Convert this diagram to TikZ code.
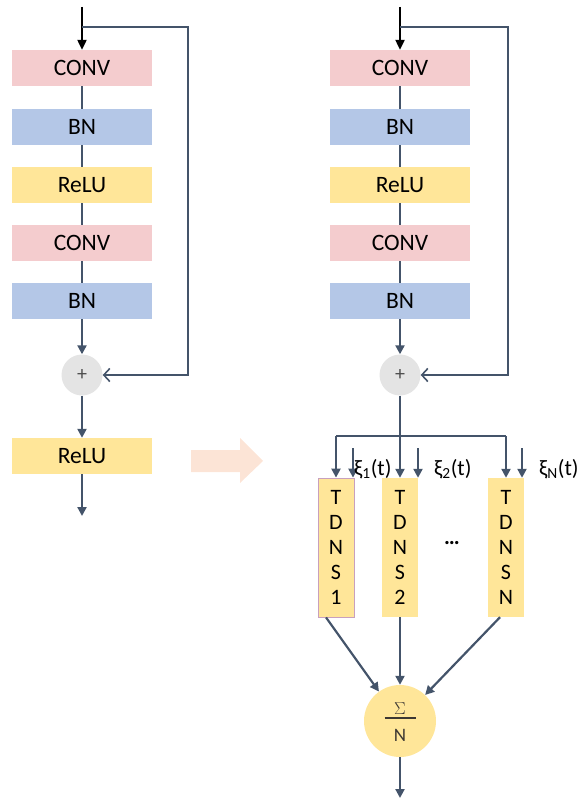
\documentclass[tikz,border=0pt]{standalone}
\usepackage{fontspec}
\setmainfont{Carlito}
\usetikzlibrary{arrows.meta,calc}
\definecolor{convc}{RGB}{244,204,206}
\definecolor{bnc}{RGB}{180,199,231}
\definecolor{reluc}{RGB}{255,230,153}
\definecolor{plusc}{RGB}{228,228,228}
\definecolor{linec}{RGB}{68,84,106}
\definecolor{bigarr}{RGB}{252,228,214}
\definecolor{tborder}{RGB}{200,160,190}
\definecolor{sumtxt}{RGB}{60,55,50}
\begin{document}
\begin{tikzpicture}[x=1pt,y=-1pt,
  box/.style={minimum width=140pt,minimum height=36pt,inner sep=0pt,font=\fontsize{23.5}{26}\selectfont},
  convbox/.style={box,fill=convc},
  bnbox/.style={box,fill=bnc},
  relubox/.style={box,fill=reluc},
  tdns/.style={fill=reluc,minimum width=36pt,minimum height=139pt,inner sep=0pt,align=center,font=\fontsize{22}{25}\selectfont},
  plusnode/.style={circle,fill=plusc,minimum size=41pt,inner sep=0pt,font=\fontsize{20}{20}\selectfont,text=black!70},
  con/.style={draw=linec,line width=2.2pt},
  arr/.style={con,-{Triangle[length=9pt,width=9pt]}},
  inarr/.style={draw=black,line width=2.2pt,-{Triangle[length=10pt,width=9pt]}},
  skip/.style={draw=linec,line width=1.6pt,-{Straight Barb[length=6pt,width=13pt]}},
  lbl/.style={font=\fontsize{22}{22}\selectfont,anchor=west,inner sep=0pt}
]
\useasboundingbox (0,0) rectangle (579,799);

% ---------- left block ----------
\node[convbox] (c1) at (82,68) {CONV};
\node[bnbox] (b1) at (82,127) {BN};
\node[relubox] (r1) at (82,185) {ReLU};
\node[convbox] (c2) at (82,243) {CONV};
\node[bnbox] (b2) at (82,301) {BN};
\node[plusnode] (p1) at (82,375) {+};
\node[relubox] (r2) at (82,456) {ReLU};

\coordinate (in1) at (82,7);
\coordinate (s1) at (82,27);
\coordinate (k1) at (188,27);
\coordinate (k2) at (188,375);
\coordinate (out1) at (82,516);

\draw[inarr] (in1) -- (c1);
\draw[con] (c1) -- (b1);
\draw[con] (b1) -- (r1);
\draw[con] (r1) -- (c2);
\draw[con] (c2) -- (b2);
\draw[arr] (b2) -- (p1);
\draw[arr] (p1) -- (r2);
\draw[arr] (r2) -- (out1);
\draw[skip] (s1) -- (k1) -- (k2) -- (p1);

% ---------- big arrow ----------
\fill[bigarr] (191,450) -- (240,450) -- (240,438) -- (263,461) -- (240,483) -- (240,472) -- (191,472) -- cycle;

% ---------- right block ----------
\node[convbox] (c3) at (400,68) {CONV};
\node[bnbox] (b3) at (400,127) {BN};
\node[relubox] (r3) at (400,185) {ReLU};
\node[convbox] (c4) at (400,243) {CONV};
\node[bnbox] (b4) at (400,301) {BN};
\node[plusnode] (p2) at (400,375) {+};

\coordinate (in2) at (400,7);
\coordinate (s2) at (400,27);
\coordinate (k3) at (508,27);
\coordinate (k4) at (508,375);

\draw[inarr] (in2) -- (c3);
\draw[con] (c3) -- (b3);
\draw[con] (b3) -- (r3);
\draw[con] (r3) -- (c4);
\draw[con] (c4) -- (b4);
\draw[arr] (b4) -- (p2);
\draw[skip] (s2) -- (k3) -- (k4) -- (p2);

% TDNS blocks
\node[tdns,draw=tborder,line width=0.8pt] (t1) at (336,547.5) {T\\D\\N\\S\\1};
\node[tdns] (t2) at (400,547.5) {T\\D\\N\\S\\2};
\node[tdns] (tN) at (506,547.5) {T\\D\\N\\S\\N};
\node[font=\fontsize{22}{22}\selectfont] (dots) at (452,543) {\textbf{…}};

\coordinate (br) at (400,436);
\coordinate (bl) at (336,436);
\coordinate (brr) at (506,436);
\draw[con] (p2) -- (br);
\draw[con] (bl) -- (brr);
\draw[arr] (bl) -- (t1);
\draw[arr] (br) -- (t2);
\draw[arr] (brr) -- (tN);

% noise inputs
\coordinate (x1) at (353,448);
\coordinate (x2) at (418,448);
\coordinate (x3) at (522,448);
\draw[arr] (x1) -- (x1 |- t1.north);
\draw[arr] (x2) -- (x2 |- t2.north);
\draw[arr] (x3) -- (x3 |- tN.north);
\node[lbl] (l1) at (354,469) {ξ\textsubscript{1}(t)};
\node[lbl] (l2) at (434,469) {ξ\textsubscript{2}(t)};
\node[lbl] (l3) at (539,469) {ξ\textsubscript{N}(t)};

% sum
\node[circle,fill=reluc,minimum size=72pt,inner sep=0pt] (sum) at (400,721) {};
\node[font=\fontsize{17}{17}\selectfont,text=sumtxt,inner sep=0pt] (sg) at ([yshift=12pt]sum.center) {$\Sigma$};
\node[font=\fontsize{19}{19}\selectfont,text=sumtxt,inner sep=0pt] (nn) at ([yshift=-14pt]sum.center) {$\mathrm{N}$};
\draw[sumtxt,line width=1.2pt] ([xshift=-15.5pt,yshift=3pt]sum.center) -- ([xshift=15.5pt,yshift=3pt]sum.center);
\coordinate (out2) at (400,798);
\draw[arr] ([xshift=-10pt]t1.south) -- (sum);
\draw[arr] (t2) -- (sum);
\draw[arr] ([xshift=-6pt]tN.south) -- (sum);
\draw[arr] (sum) -- (out2);
\end{tikzpicture}
\end{document}
